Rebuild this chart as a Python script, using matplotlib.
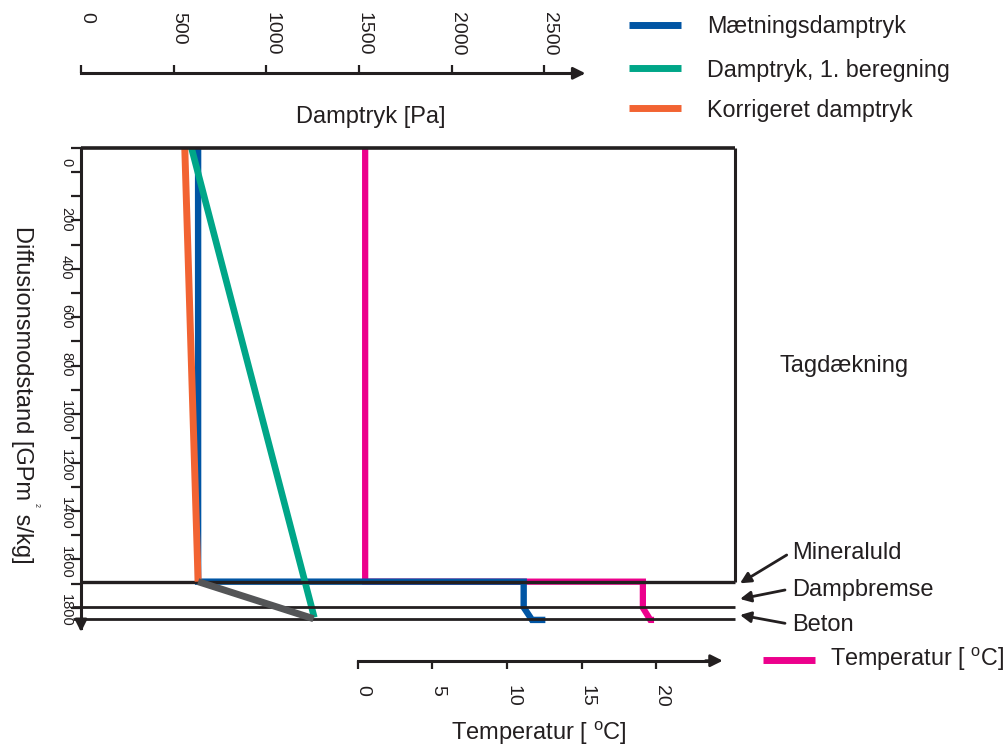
import matplotlib
matplotlib.use('Agg')
import matplotlib.pyplot as plt
from matplotlib.lines import Line2D

plt.rcParams['font.family'] = ['Liberation Sans', 'DejaVu Sans']
plt.rcParams['mathtext.fontset'] = 'custom'
plt.rcParams['mathtext.rm'] = 'Liberation Sans'
plt.rcParams['mathtext.it'] = 'Liberation Sans:italic'
plt.rcParams['mathtext.bf'] = 'Liberation Sans:bold'

# ---------------- data ----------------
pa_ticks = [0, 500, 1000, 1500, 2000, 2500]
temp_ticks = [0, 5, 10, 15, 20]
diff_ticks = [0, 100, 200, 300, 400, 500, 600, 700, 800, 900, 1000,
              1100, 1200, 1300, 1400, 1500, 1600, 1700, 1800, 1900]
diff_labels = [0, 200, 400, 600, 800, 1000, 1200, 1400, 1600, 1800]

layer_names = ['Tagdækning', 'Mineraluld', 'Dampbremse', 'Beton']
layer_bounds = [0, 1792, 1898, 1945]

# Mætningsdamptryk (saturation pressure) [Pa] vs diffusion resistance
sat_pa = [632, 632, 2389, 2389, 2434, 2506]
sat_y = [0, 1792, 1792, 1898, 1950, 1950]
# Damptryk, 1. beregning
first_pa = [596, 1259]
first_y = [0, 1940]
# Korrigeret damptryk (orange part and grey continuation)
corr_pa = [560, 632]
corr_y = [0, 1792]
cond_pa = [632, 1255]
cond_y = [1792, 1945]
# Temperatur [C]
temp_c = [0.5, 0.5, 19.1, 19.1, 19.6, 19.85]
temp_y = [0, 1792, 1792, 1900, 1950, 1950]

series_names = ['Mætningsdamptryk', 'Damptryk, 1. beregning', 'Korrigeret damptryk']
temp_name = 'Temperatur [ $^{\\mathrm{o}}$C]'

BLUE = '#0055A4'
GREEN = '#00A688'
ORANGE = '#F26332'
PINK = '#EC008C'
GRAY = '#545557'
BLACK = '#231F20'

# ---------------- geometry (pixels) ----------------
W, H = 1007, 746
AX_L, AX_R = 81.0, 734.5
AX_T, AX_B = 147.8, 618.7
PX_PER_PA = 0.1853
T0_PX, PX_PER_C = 357.7, 14.93
PA_AXIS_Y = 73.3
T_AXIS_Y = 660.7


def fx(px):
    return px / W


def fy(py):
    return 1 - py / H


fig = plt.figure(figsize=(W / 100, H / 100), dpi=100)
rect = [fx(AX_L), fy(AX_B), (AX_R - AX_L) / W, (AX_B - AX_T) / H]

# temperature scale axes (drawn underneath)
ax2 = fig.add_axes(rect)
ax = fig.add_axes(rect, sharey=ax2)
ax2.patch.set_visible(False)
ax.patch.set_visible(False)

ax.set_xlim(0, (AX_R - AX_L) / PX_PER_PA)
ax.set_ylim(layer_bounds[-1], 0)
ax2.set_xlim((AX_L - T0_PX) / PX_PER_C, (AX_R - T0_PX) / PX_PER_C)

for s in list(ax.spines.values()) + list(ax2.spines.values()):
    s.set_visible(False)

# left (diffusion resistance) axis
ax.spines['left'].set_visible(True)
ax.spines['left'].set_linewidth(2.2)
ax.spines['left'].set_color(BLACK)
ax.spines['left'].set_bounds(0, 1985)
ax.set_yticks(diff_ticks)
ax.tick_params(axis='y', direction='out', length=7, width=1.6, colors=BLACK,
               labelleft=False)
ax2.yaxis.set_visible(False)
ax.annotate('', xy=(0, 2000), xycoords=('axes fraction', 'data'),
            xytext=(0, 1960), textcoords=('axes fraction', 'data'),
            arrowprops=dict(arrowstyle='-|>', color=BLACK, lw=2,
                            mutation_scale=18, shrinkA=0, shrinkB=0),
            annotation_clip=False)
for v in diff_labels:
    ax.annotate(str(v), xy=(73, v), xycoords=('figure pixels', 'data'),
                xytext=(0, -10.5), textcoords='offset pixels',
                rotation=-90, ha='right', va='top', fontsize=10.5, color=BLACK,
                annotation_clip=False)

# top (vapour pressure) axis
ax.xaxis.set_ticks_position('top')
ax.spines['top'].set_visible(True)
ax.spines['top'].set_position(('outward', (AX_T - PA_AXIS_Y) * 0.72))
ax.spines['top'].set_linewidth(2.2)
ax.spines['top'].set_color(BLACK)
ax.spines['top'].set_bounds(0, 2700)
ax.set_xticks(pa_ticks)
ax.tick_params(axis='x', direction='out', length=5.5, width=1.6, colors=BLACK,
               labeltop=False, labelbottom=False)
ax.annotate('', xy=(2722, H - PA_AXIS_Y), xycoords=('data', 'figure pixels'),
            xytext=(2640, H - PA_AXIS_Y), textcoords=('data', 'figure pixels'),
            arrowprops=dict(arrowstyle='-|>', color=BLACK, lw=2,
                            mutation_scale=18, shrinkA=0, shrinkB=0),
            annotation_clip=False)
for v in pa_ticks:
    ax.annotate(str(v), xy=(v, H - 11.7), xycoords=('data', 'figure pixels'),
                xytext=(-3, 0), textcoords='offset pixels',
                rotation=-90, ha='left', va='top', fontsize=14, color=BLACK,
                annotation_clip=False)

# bottom (temperature) axis
ax2.xaxis.set_ticks_position('bottom')
ax2.spines['bottom'].set_visible(True)
ax2.spines['bottom'].set_position(('outward', (T_AXIS_Y - AX_B) * 0.72))
ax2.spines['bottom'].set_linewidth(2.2)
ax2.spines['bottom'].set_color(BLACK)
ax2.spines['bottom'].set_bounds(0, 24.0)
ax2.set_xticks(temp_ticks)
ax2.tick_params(axis='x', direction='out', length=5.5, width=1.6, colors=BLACK,
                labelbottom=False, labeltop=False)
ax2.annotate('', xy=(24.45, H - T_AXIS_Y), xycoords=('data', 'figure pixels'),
             xytext=(23.3, H - T_AXIS_Y), textcoords=('data', 'figure pixels'),
             arrowprops=dict(arrowstyle='-|>', color=BLACK, lw=2,
                             mutation_scale=18, shrinkA=0, shrinkB=0),
             annotation_clip=False)
for v in temp_ticks:
    ax2.annotate(str(v), xy=(v, H - 685), xycoords=('data', 'figure pixels'),
                 xytext=(-3, 0), textcoords='offset pixels',
                 rotation=-90, ha='left', va='top', fontsize=14, color=BLACK,
                 annotation_clip=False)

# temperature line (under the pressure lines)
ax.plot(temp_c, temp_y, transform=ax2.transData, color=PINK, lw=4.5,
        clip_on=False, zorder=1.5, solid_joinstyle='miter',
        solid_capstyle='butt')

# frame and layer lines
ytr = ax.get_yaxis_transform()
ax.plot([0, 1], [0, 0], transform=ytr, color=BLACK, lw=2.6, clip_on=False,
        zorder=5, solid_capstyle='butt')
ax.plot([1, 1], [0, layer_bounds[1]], transform=ytr, color=BLACK, lw=2.2,
        clip_on=False, zorder=5, solid_capstyle='butt')
for i, b in enumerate(layer_bounds[1:]):
    ax.plot([-0.012 if i else 0, 1], [b, b], transform=ytr, color=BLACK,
            lw=2.4 if i == 0 else 2.0, clip_on=False, zorder=3,
            solid_capstyle='butt')

# data lines (pressure)
ax.plot(sat_pa, sat_y, color=BLUE, lw=4.6, zorder=2, clip_on=False,
        solid_joinstyle='miter', solid_capstyle='butt')
ax.plot(first_pa, first_y, color=GREEN, lw=4.8, zorder=2, clip_on=False,
        solid_capstyle='butt')
ax.plot(corr_pa, corr_y, color=ORANGE, lw=5.0, zorder=4, clip_on=False,
        solid_capstyle='butt')
ax.plot(cond_pa, cond_y, color=GRAY, lw=5.0, zorder=4, clip_on=False,
        solid_capstyle='butt')

# axis titles
fig.text(fx(371), fy(117), 'Damptryk [Pa]', ha='center', va='center',
         fontsize=17, color=BLACK)
fig.text(fx(539), fy(740), temp_name, ha='center', va='baseline',
         fontsize=17, color=BLACK)

# vertical axis title with a tiny superscript 2
renderer = fig.canvas.get_renderer()
inv = fig.transFigure.inverted()
ylab_parts = ['Diffusionsmodstand [GPm', '2', ' s/kg]']
t1 = fig.text(fx(22), fy(226), ylab_parts[0], rotation=-90, ha='center',
              va='top', fontsize=17, color=BLACK)
end1 = t1.get_window_extent(renderer).y0
fig.text(fx(36), inv.transform((0, end1 - 3))[1], ylab_parts[1], rotation=-90,
         ha='center', va='top', fontsize=5, color=BLACK)
fig.text(fx(22), inv.transform((0, end1 - 7))[1], ylab_parts[2], rotation=-90,
         ha='center', va='top', fontsize=17, color=BLACK)

# layer labels
fig.text(fx(780), fy(366), layer_names[0], ha='left', va='center',
         fontsize=17, color=BLACK)
lab_y = [553, 590, 625]
tips = [(740, 583.3), (740, 599), (740, 615)]
tails = [(786.7, 555), (785, 590), (785, 623.3)]
for name, ly, tip, tail in zip(layer_names[1:], lab_y, tips, tails):
    fig.text(fx(792), fy(ly), name, ha='left', va='center', fontsize=17,
             color=BLACK)
    ax.annotate('', xy=(tip[0], H - tip[1]), xycoords='figure pixels',
                xytext=(tail[0], H - tail[1]), textcoords='figure pixels',
                arrowprops=dict(arrowstyle='-|>', color=BLACK, lw=2,
                                mutation_scale=16, shrinkA=0, shrinkB=0),
                annotation_clip=False)

# legend
leg_y = [25, 68.3, 108.3]
for name, col, ly in zip(series_names, [BLUE, GREEN, ORANGE], leg_y):
    fig.add_artist(Line2D([fx(629), fx(681)], [fy(ly), fy(ly)], color=col,
                          lw=5, solid_capstyle='butt'))
    fig.text(fx(706.7), fy(ly + 2), name, ha='left', va='center',
             fontsize=16.8, color=BLACK)
fig.add_artist(Line2D([fx(763), fx(815)], [fy(660), fy(660)], color=PINK,
                      lw=5, solid_capstyle='butt'))
fig.text(fx(830), fy(659), temp_name, ha='left', va='center', fontsize=16.8,
         color=BLACK)

fig.savefig('out.png', dpi=100)
